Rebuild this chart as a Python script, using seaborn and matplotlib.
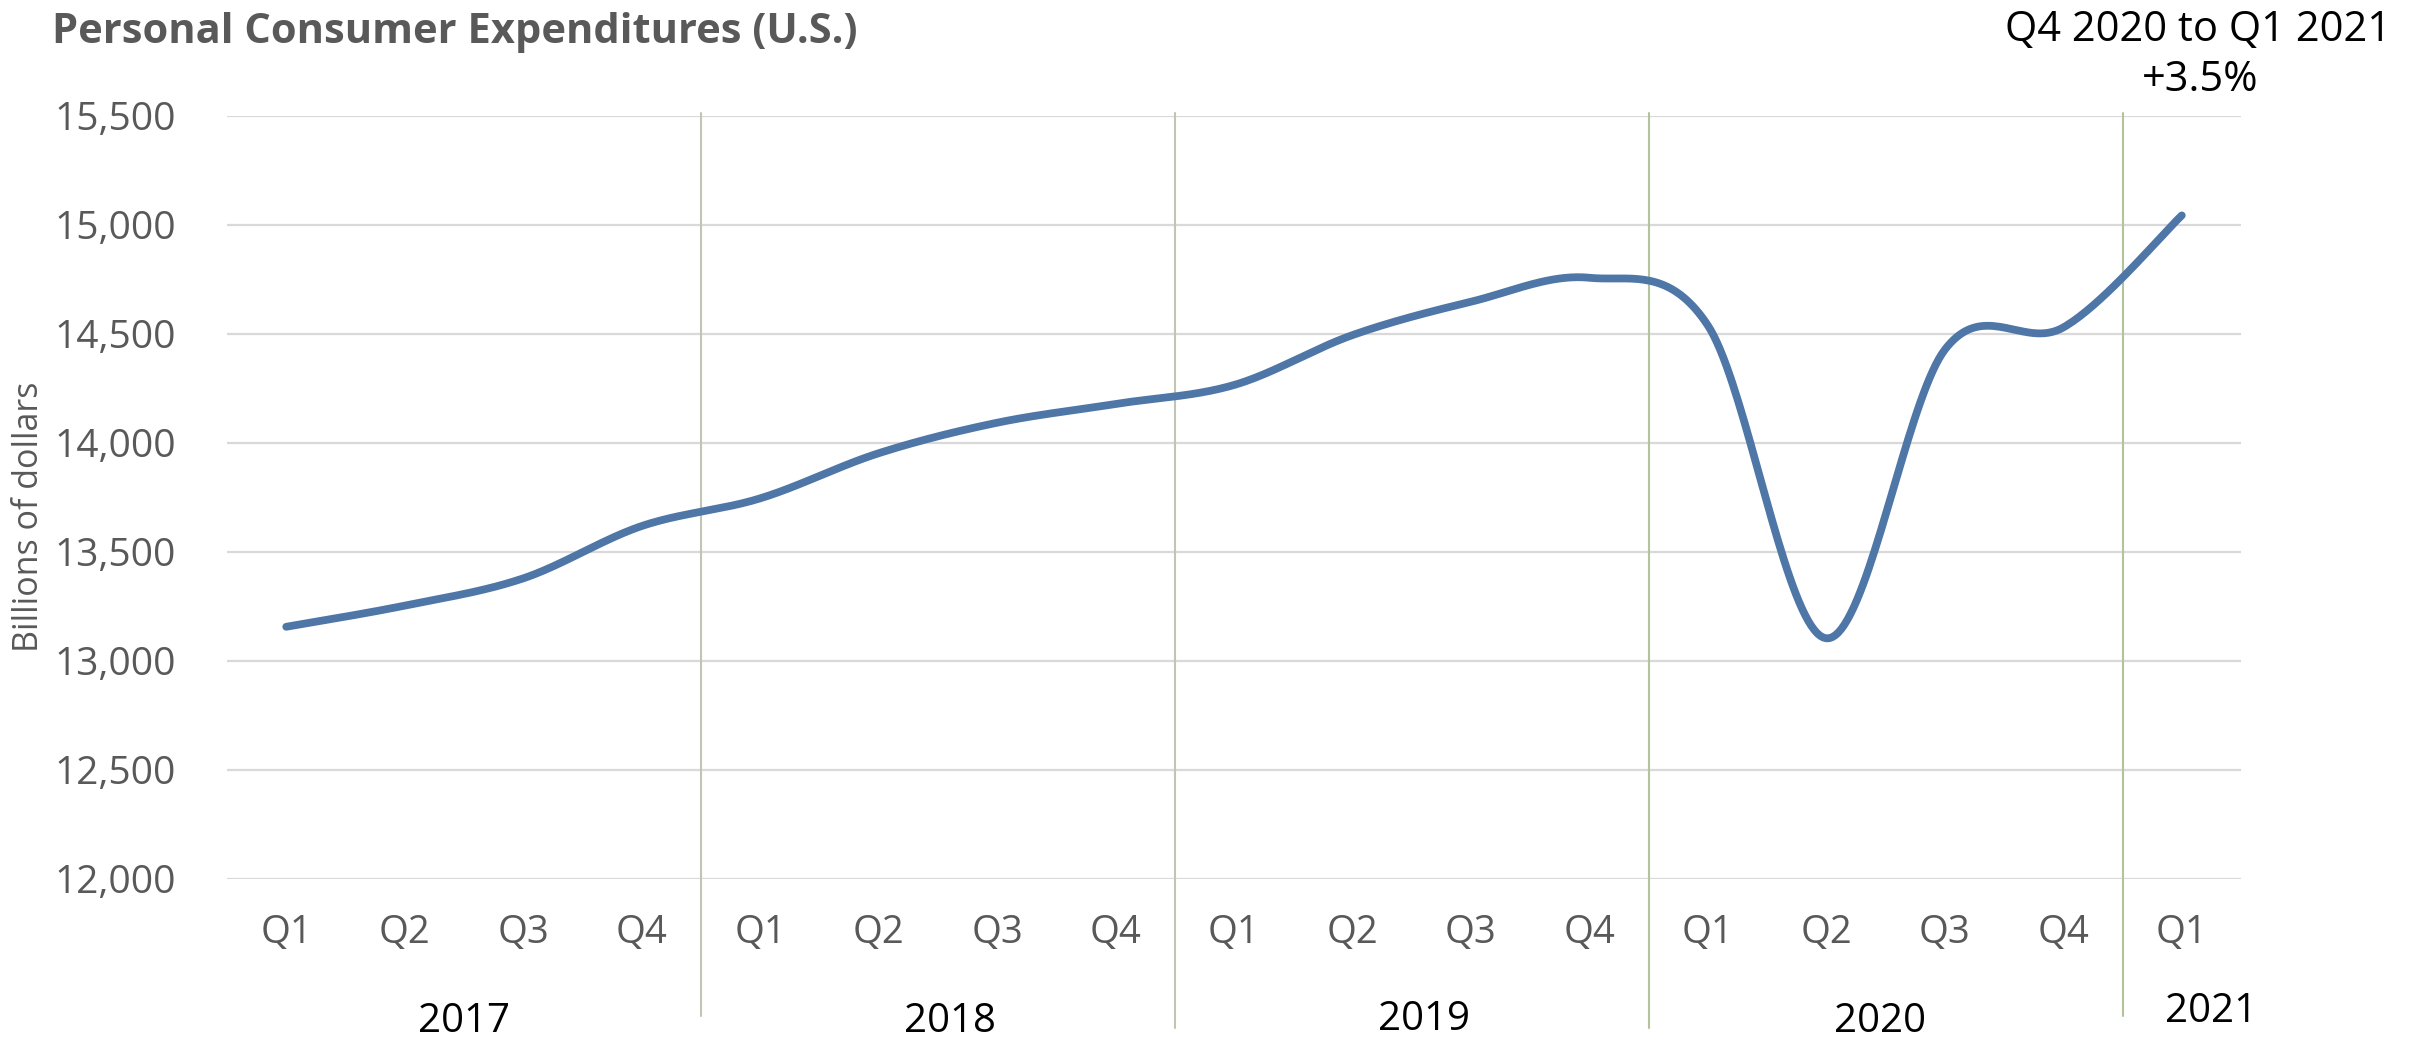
import numpy as np
import matplotlib
matplotlib.use("Agg")
import matplotlib.pyplot as plt
import matplotlib.transforms as mtransforms
import seaborn as sns

# ---- data ----
quarters = ["Q1", "Q2", "Q3", "Q4",
            "Q1", "Q2", "Q3", "Q4",
            "Q1", "Q2", "Q3", "Q4",
            "Q1", "Q2", "Q3", "Q4",
            "Q1"]
years = ["2017", "2018", "2019", "2020", "2021"]
quarters_per_year = [4, 4, 4, 4, 1]
pce = [13157, 13254, 13379, 13619,
       13746, 13953, 14093, 14179,
       14266, 14495, 14648, 14758,
       14539, 13104, 14428, 14530,
       15044]
y_ticks = [12000, 12500, 13000, 13500, 14000, 14500, 15000, 15500]
title = "Personal Consumer Expenditures (U.S.)"
y_label = "Billions of dollars"
note_line1 = "Q4 2020 to Q1 2021"
note_line2 = "+3.5%"

sns.set_style("white")
plt.rcParams["font.family"] = ["Open Sans", "DejaVu Sans"]

W, H = 2423, 1040
fig = plt.figure(figsize=(W / 100, H / 100), dpi=100)
L, R, T, B = 227, 2241, 116, 879
ax = fig.add_axes([L / W, 1 - B / H, (R - L) / W, (B - T) / H])

# smooth line (Catmull-Rom through the data points, like Excel's smoothed line)
x = np.arange(len(pce), dtype=float)
y = np.array(pce, dtype=float)
xp = np.concatenate([[x[0]], x, [x[-1]]])
yp = np.concatenate([[y[0]], y, [y[-1]]])
xs_all, ys_all = [], []
t = np.linspace(0, 1, 40)
for i in range(len(x) - 1):
    p0x, p1x, p2x, p3x = xp[i], xp[i + 1], xp[i + 2], xp[i + 3]
    p0y, p1y, p2y, p3y = yp[i], yp[i + 1], yp[i + 2], yp[i + 3]
    m1x, m2x = (p2x - p0x) / 2, (p3x - p1x) / 2
    m1y, m2y = (p2y - p0y) / 2, (p3y - p1y) / 2
    h00 = 2 * t**3 - 3 * t**2 + 1
    h10 = t**3 - 2 * t**2 + t
    h01 = -2 * t**3 + 3 * t**2
    h11 = t**3 - t**2
    xs_all.append(h00 * p1x + h10 * m1x + h01 * p2x + h11 * m2x)
    ys_all.append(h00 * p1y + h10 * m1y + h01 * p2y + h11 * m2y)
xs = np.concatenate(xs_all)
ys = np.concatenate(ys_all)

sns.lineplot(x=xs, y=ys, sort=False, ax=ax, color="#4e76a7", lw=5.6,
             solid_capstyle="round", zorder=3)

ax.set_xlim(-0.5, len(pce) - 0.5)
ax.set_ylim(y_ticks[0], y_ticks[-1])
ax.set_yticks(y_ticks)
ax.set_yticklabels([f"{v:,}" for v in y_ticks])
ax.set_xticks(x)
ax.set_xticklabels(quarters)
ax.grid(axis="y", color="#d9d9d9", lw=1.6, zorder=0)
ax.grid(axis="x", visible=False)
for s in ax.spines.values():
    s.set_visible(False)
ax.tick_params(axis="y", length=0, labelsize=28, labelcolor="#595959", pad=37)
ax.tick_params(axis="x", length=0, labelsize=27.5, labelcolor="#595959", pad=25)
ax.set_xlabel("")
ax.set_ylabel("")

# year dividers and year labels
trans = mtransforms.blended_transform_factory(ax.transData, ax.transAxes)
bounds = np.cumsum(quarters_per_year)
starts = np.concatenate([[0], bounds[:-1]])
year_offsets = [0.0, 0.1, 0.1, -0.05, 0.25]
year_base = [-0.2005, -0.2005, -0.198, -0.2005, -0.187]
div_bottom = [-0.18, -0.195, -0.195, -0.18]
div_colors = ["#bfc6b3", "#bfc6b3", "#b3c49c", "#b3c49c"]
for k, (s0, n) in enumerate(zip(starts, quarters_per_year)):
    cx = s0 + (n - 1) / 2 + year_offsets[k]
    ax.text(cx, year_base[k], years[k], transform=trans, ha="center",
            va="baseline", fontsize=29, color="black")
    if k > 0:
        ax.axvline(s0 - 0.5, ymin=div_bottom[k - 1], ymax=1.004, clip_on=False,
                   color=div_colors[k - 1], lw=1.5, zorder=1)

fig.text(52 / W, 1 - 43 / H, title, ha="left", va="baseline", fontsize=30,
         fontweight="bold", color="#595959")
fig.text(29 / W, 1 - 517 / H, y_label, rotation=90, ha="center", va="center",
         fontsize=24.5, color="#595959")
fig.text(2198 / W, 1 - 41 / H, note_line1, ha="center", va="baseline",
         fontsize=30, color="black")
fig.text(2200 / W, 1 - 90.7 / H, note_line2, ha="center", va="baseline",
         fontsize=30, color="black")

fig.savefig("out.png", dpi=100, facecolor="white")
